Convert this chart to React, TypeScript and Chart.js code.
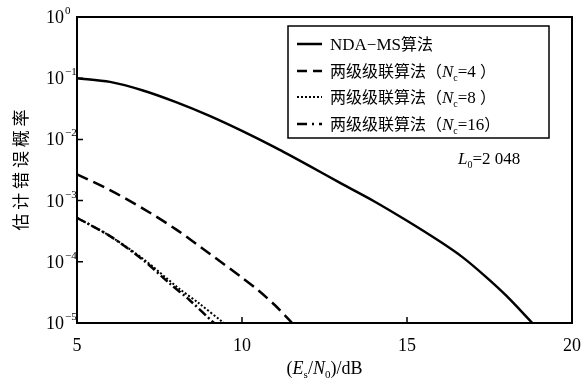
import React, { useEffect, useRef } from "react";
import { Chart, registerables } from "chart.js";

Chart.register(...registerables);

const ndaX = [5, 6, 7, 8, 9, 10, 11, 12, 13, 14, 15, 16, 16.7, 17.4, 18, 18.8];
const ndaY = [0.1, 0.0871, 0.0631, 0.0407, 0.0245, 0.0138, 0.00741, 0.0038, 0.00191, 0.000977, 0.000468, 0.000214, 0.000117, 0.0000562, 0.0000282, 0.00001];

const nc4X = [5, 6, 7, 8, 9, 10, 10.5, 11, 11.52];
const nc4Y = [0.00269, 0.00148, 0.000741, 0.000339, 0.000138, 0.000055, 0.0000339, 0.0000195, 0.00001];

const nc8X = [5, 6, 7, 8.1, 8.7, 9.45];
const nc8Y = [0.000525, 0.000263, 0.000112, 0.0000363, 0.0000209, 0.00001];

const nc16X = [5, 6, 7, 7.8, 8.4, 9.15];
const nc16Y = [0.000525, 0.000263, 0.000107, 0.0000447, 0.000024, 0.00001];

const xTicks = [5, 10, 15, 20];
const yExps = [0, -1, -2, -3, -4, -5];

const legendLabels = ["NDA-MS算法", "两级级联算法（", "两级级联算法（", "两级级联算法（"];
const legendNc = ["", "4", "8", "16"];
const yTitle = "估计错误概率";
const annot = "2 048";

const SERIF = '"Liberation Serif", "Noto Sans CJK SC", serif';
const CJK = '"Noto Sans CJK SC", "Liberation Serif", sans-serif';

const dashes: number[][] = [[], [12, 6], [2, 2], [9, 3, 2, 3]];

function pts(xs: number[], ys: number[]) {
  return xs.map((x, i) => ({ x, y: ys[i] }));
}

const overlay = {
  id: "overlay",
  afterDraw(chart: any) {
    const ctx = chart.ctx as CanvasRenderingContext2D;
    const a = chart.chartArea;
    const xs = chart.scales.x;
    const ys = chart.scales.y;
    ctx.save();
    ctx.strokeStyle = "#000";
    ctx.fillStyle = "#000";
    // frame
    ctx.lineWidth = 2;
    ctx.strokeRect(a.left, a.top, a.right - a.left, a.bottom - a.top);
    // ticks inward
    ctx.lineWidth = 1.5;
    ctx.beginPath();
    xTicks.forEach((t) => {
      const px = xs.getPixelForValue(t);
      ctx.moveTo(px, a.bottom);
      ctx.lineTo(px, a.bottom - 6);
    });
    yExps.forEach((e) => {
      const py = ys.getPixelForValue(Math.pow(10, e));
      ctx.moveTo(a.left, py);
      ctx.lineTo(a.left + 6, py);
    });
    ctx.stroke();
    // x tick labels
    ctx.font = "18px " + SERIF;
    ctx.textAlign = "center";
    ctx.textBaseline = "alphabetic";
    xTicks.forEach((t) => {
      const px = xs.getPixelForValue(t);
      ctx.fillText(String(t), px, a.bottom + 28);
    });
    // y tick labels
    yExps.forEach((e) => {
      const py = ys.getPixelForValue(Math.pow(10, e));
      ctx.font = "18px " + SERIF;
      ctx.textAlign = "right";
      ctx.fillText("10", a.left - 13, py + 6);
      ctx.font = "11px " + SERIF;
      ctx.textAlign = "left";
      ctx.fillText(e === 0 ? "0" : "\u2212" + String(-e), a.left - 12, py - 3);
    });
    // x title (Es/N0)/dB
    {
      const cx = (a.left + a.right) / 2;
      const by = 374;
      const parts: [string, string, number][] = [
        ["(", "18px " + SERIF, 0],
        ["E", "italic 18px " + SERIF, 0],
        ["s", "11px " + SERIF, 4],
        ["/", "18px " + SERIF, 0],
        ["N", "italic 18px " + SERIF, 0],
        ["0", "11px " + SERIF, 4],
        [")/dB", "18px " + SERIF, 0],
      ];
      let w = 0;
      parts.forEach(([t, f]) => {
        ctx.font = f;
        w += ctx.measureText(t).width;
      });
      let x = cx - w / 2;
      ctx.textAlign = "left";
      parts.forEach(([t, f, dy]) => {
        ctx.font = f;
        ctx.fillText(t, x, by + dy);
        x += ctx.measureText(t).width;
      });
    }
    // y title
    ctx.save();
    ctx.translate(21, 170);
    ctx.rotate(-Math.PI / 2);
    ctx.font = "17px " + CJK;
    ctx.textAlign = "center";
    ctx.textBaseline = "middle";
    ctx.fillText(yTitle.split("").join(" "), 0, 0);
    ctx.restore();
    // legend box
    const lx = 288, ly = 26, lw = 261, lh = 112;
    ctx.lineWidth = 1.5;
    ctx.fillStyle = "#fff";
    ctx.fillRect(lx, ly, lw, lh);
    ctx.strokeRect(lx, ly, lw, lh);
    ctx.fillStyle = "#000";
    const rows = [44, 71, 97, 124];
    rows.forEach((ry, i) => {
      ctx.save();
      ctx.lineWidth = i === 2 ? 2 : 2.5;
      ctx.setLineDash(i === 1 ? [10, 6] : i === 3 ? [10, 5, 2, 5] : dashes[i]);
      ctx.beginPath();
      ctx.moveTo(297, ry);
      ctx.lineTo(322, ry);
      ctx.stroke();
      ctx.restore();
      let x = 330;
      ctx.textAlign = "left";
      ctx.textBaseline = "alphabetic";
      if (i === 0) {
        ctx.font = "17px " + SERIF;
        ctx.fillText("NDA\u2212MS", x, ry + 6);
        x += ctx.measureText("NDA\u2212MS").width;
        ctx.font = "16px " + CJK;
        ctx.fillText("算法", x, ry + 6);
      } else {
        ctx.font = "16px " + CJK;
        ctx.fillText(legendLabels[i], x, ry + 6);
        x += ctx.measureText(legendLabels[i]).width;
        ctx.font = "italic 17px " + SERIF;
        ctx.fillText("N", x, ry + 6);
        x += ctx.measureText("N").width;
        ctx.font = "10px " + SERIF;
        ctx.fillText("c", x, ry + 10);
        x += ctx.measureText("c").width;
        ctx.font = "17px " + SERIF;
        const t = "=" + legendNc[i] + (legendNc[i].length === 1 ? " " : "");
        ctx.fillText(t, x, ry + 6);
        x += ctx.measureText(t).width;
        ctx.font = "16px " + CJK;
        ctx.fillText("）", x, ry + 6);
      }
    });
    // L0 annotation
    {
      let x = 458;
      const by = 164;
      ctx.font = "italic 17px " + SERIF;
      ctx.fillText("L", x, by);
      x += ctx.measureText("L").width;
      ctx.font = "10px " + SERIF;
      ctx.fillText("0", x, by + 4);
      x += ctx.measureText("0").width;
      ctx.font = "17px " + SERIF;
      ctx.fillText("=" + annot, x, by);
    }
    ctx.restore();
  },
};

export default function App() {
  const ref = useRef<HTMLCanvasElement | null>(null);
  useEffect(() => {
    if (!ref.current) return;
    const mk = (label: string, xs: number[], ys: number[], i: number) => ({
      label,
      data: pts(xs, ys),
      borderColor: "#000",
      borderWidth: i === 2 ? 2 : 2.5,
      borderDash: dashes[i],
      pointRadius: 0,
      fill: false,
      tension: 0.3,
    });
    const chart = new Chart(ref.current, {
      type: "line",
      data: {
        datasets: [
          mk("NDA-MS算法", ndaX, ndaY, 0),
          mk("Nc=4", nc4X, nc4Y, 1),
          mk("Nc=8", nc8X, nc8Y, 2),
          mk("Nc=16", nc16X, nc16Y, 3),
        ],
      },
      options: {
        animation: false,
        responsive: false,
        maintainAspectRatio: false,
        layout: { padding: { top: 17, right: 15, left: 0, bottom: 0 } },
        plugins: { legend: { display: false }, tooltip: { enabled: false } },
        scales: {
          x: {
            type: "linear",
            min: 5,
            max: 20,
            grid: { display: false, drawTicks: false },
            border: { display: false },
            ticks: { display: false },
            afterFit: (s: any) => {
              s.height = 58;
            },
          },
          y: {
            type: "logarithmic",
            min: 1e-5,
            max: 1,
            grid: { display: false, drawTicks: false },
            border: { display: false },
            ticks: { display: false },
            afterFit: (s: any) => {
              s.width = 77;
            },
          },
        },
      },
      plugins: [overlay],
    });
    return () => chart.destroy();
  }, []);
  return (
    <div style={{ position: "fixed", left: 0, top: 0, width: 587, height: 381, background: "#fff" }}>
      <canvas ref={ref} width={587} height={381} style={{ width: 587, height: 381 }} />
    </div>
  );
}
